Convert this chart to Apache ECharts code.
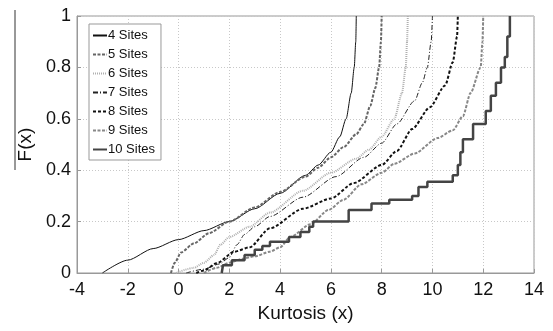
<!DOCTYPE html>
<html>
<head>
<meta charset="utf-8">
<script src="https://cdn.jsdelivr.net/npm/echarts@6/dist/echarts.min.js"></script>
<style>
  html, body { margin: 0; padding: 0; background: #fff; }
  #chart { width: 553px; height: 331px; }
</style>
</head>
<body>
<div id="chart"></div>
<script>
  // tick labels
  const xTicks = { min: -4, max: 14, step: 2 }
  const yTicks = { min: 0, max: 1, step: 0.2 }
  const seriesNames = ['4 Sites', '5 Sites', '6 Sites', '7 Sites', '8 Sites', '9 Sites', '10 Sites']

  // empirical CDF curves, [kurtosis, F(x)]
  const sites4 = [[-3.0, 0], [-2.0, 0.05], [-1.0, 0.095], [0, 0.13], [1.0, 0.165], [2.0, 0.2], [3.0, 0.25],
    [4.0, 0.31], [5.0, 0.38], [5.5, 0.42], [6.0, 0.47], [6.35, 0.53], [6.6, 0.6], [6.8, 0.7], [6.92, 0.8],
    [6.98, 0.9], [7.0, 1.0]]
  const sites5 = [[-0.3, 0], [-0.15, 0.04], [0.1, 0.08], [0.6, 0.115], [1.2, 0.155], [2.0, 0.2], [3.0, 0.255],
    [4.0, 0.315], [5.0, 0.375], [5.5, 0.41], [6.0, 0.45], [6.5, 0.49], [7.0, 0.54], [7.3, 0.58], [7.55, 0.65],
    [7.75, 0.72], [7.9, 0.8], [7.97, 0.9], [8.0, 1.0]]
  const sites6 = [[-0.1, 0], [0.6, 0.02], [1.0, 0.04], [1.4, 0.07], [1.65, 0.11], [2.0, 0.14], [2.8, 0.18],
    [3.6, 0.235], [4.9, 0.32], [6.0, 0.39], [7.0, 0.445], [7.5, 0.48], [8.0, 0.53], [8.5, 0.6], [8.8, 0.7],
    [8.95, 0.8], [9.0, 0.9], [9.03, 1.0]]
  const sites7 = [[0.3, 0], [1.0, 0.015], [1.6, 0.035], [2.0, 0.06], [2.3, 0.11], [2.6, 0.15], [3.0, 0.18],
    [3.6, 0.22], [4.9, 0.295], [6.2, 0.375], [7.3, 0.45], [8.0, 0.505], [8.6, 0.58], [9.3, 0.67], [9.6, 0.74],
    [9.8, 0.8], [9.95, 0.9], [10.0, 1.0]]
  const sites8 = [[0.7, 0], [1.0, 0.01], [1.5, 0.038], [2.2, 0.083], [2.8, 0.1], [3.6, 0.174], [4.9, 0.25],
    [6.0, 0.29], [6.9, 0.35], [8.0, 0.42], [8.6, 0.475], [9.2, 0.56], [9.9, 0.645], [10.5, 0.73], [10.8, 0.82],
    [10.97, 0.92], [11.0, 1.0]]
  const sites9 = [[1.0, 0], [1.5, 0.02], [2.0, 0.04], [2.5, 0.055], [3.0, 0.065], [3.6, 0.083], [4.0, 0.1],
    [4.4, 0.14], [5.2, 0.19], [5.9, 0.245], [6.5, 0.285], [7.2, 0.345], [8.0, 0.39], [8.5, 0.425], [9.3, 0.465],
    [10.2, 0.525], [10.8, 0.555], [11.2, 0.61], [11.5, 0.7], [11.9, 0.8], [11.97, 0.9], [12.0, 1.0]]
  const sites10 = [[1.7, 0], [1.75, 0.03], [2.1, 0.05], [2.6, 0.07], [3.0, 0.09], [3.3, 0.105], [3.6, 0.122],
    [4.35, 0.14], [4.8, 0.16], [5.15, 0.18], [5.3, 0.2], [6.7, 0.245], [7.6, 0.27], [8.3, 0.285], [9.2, 0.3],
    [9.45, 0.335], [9.8, 0.355], [10.8, 0.38], [11.0, 0.42], [11.1, 0.47], [11.2, 0.52], [11.6, 0.58],
    [12.1, 0.63], [12.3, 0.69], [12.5, 0.74], [12.7, 0.8], [12.85, 0.84], [12.95, 0.92], [13.05, 1.0]]

  const font = 'Liberation Sans, Arial, sans-serif'

  function line(name, data, color, width, type, step) {
    return {
      name: name,
      type: 'line',
      data: data,
      showSymbol: false,
      symbol: 'none',
      step: step || false,
      smooth: step ? false : 0.25,
      smoothMonotone: 'x',
      animation: false,
      lineStyle: { color: color, width: width, type: type },
      itemStyle: { color: color }
    }
  }

  const chart = echarts.init(document.getElementById('chart'))
  chart.setOption({
    animation: false,
    backgroundColor: '#fff',
    grid: {
      left: 77, right: 19, top: 16, bottom: 58,
      show: true, borderColor: '#999', borderWidth: 1
    },
    legend: {
      orient: 'vertical',
      left: 89,
      top: 24,
      data: seriesNames,
      itemWidth: 14,
      itemHeight: 12,
      itemGap: 6,
      padding: [5, 6, 4, 3],
      borderColor: '#999',
      borderWidth: 1,
      borderRadius: 0,
      backgroundColor: '#fff',
      itemStyle: { opacity: 0 },
      textStyle: { fontFamily: font, fontSize: 13, color: '#111', padding: [0, 0, 0, -4] }
    },
    xAxis: {
      type: 'value',
      min: xTicks.min, max: xTicks.max, interval: xTicks.step,
      name: 'Kurtosis (x)',
      nameLocation: 'middle',
      nameGap: 30,
      nameTextStyle: { fontFamily: font, fontSize: 19, color: '#111' },
      axisLine: { show: true, onZero: false, lineStyle: { color: '#999' } },
      axisTick: { show: true, inside: true, length: 4, lineStyle: { color: '#999' } },
      axisLabel: { fontFamily: font, fontSize: 18, color: '#111', margin: 8 },
      splitLine: { show: true, lineStyle: { color: '#c8c8c8', type: [1, 2] } }
    },
    yAxis: {
      type: 'value',
      min: yTicks.min, max: yTicks.max, interval: yTicks.step,
      name: 'F(x)',
      nameLocation: 'middle',
      nameGap: 40,
      nameTextStyle: { fontFamily: font, fontSize: 19, color: '#111' },
      axisLine: { show: true, onZero: false, lineStyle: { color: '#999' } },
      axisTick: { show: true, inside: true, length: 4, lineStyle: { color: '#999' } },
      axisLabel: { fontFamily: font, fontSize: 18, color: '#111', margin: 6 },
      splitLine: { show: true, lineStyle: { color: '#c8c8c8', type: [1, 2] } }
    },
    graphic: [{
      type: 'line',
      shape: { x1: 15, y1: 10, x2: 15, y2: 170 },
      style: { stroke: '#333', lineWidth: 1 }
    }],
    series: [
      line(seriesNames[0], sites4, '#111', 1, 'solid'),
      line(seriesNames[1], sites5, '#666', 2, [3, 1.5]),
      line(seriesNames[2], sites6, '#b0b0b0', 2, [1, 1]),
      line(seriesNames[3], sites7, '#222', 1, [5, 2, 1, 2]),
      line(seriesNames[4], sites8, '#111', 2, [3, 2]),
      line(seriesNames[5], sites9, '#888', 2, [3, 1.5]),
      line(seriesNames[6], sites10, '#444', 2.5, 'solid', 'end')
    ]
  })
</script>
</body>
</html>
